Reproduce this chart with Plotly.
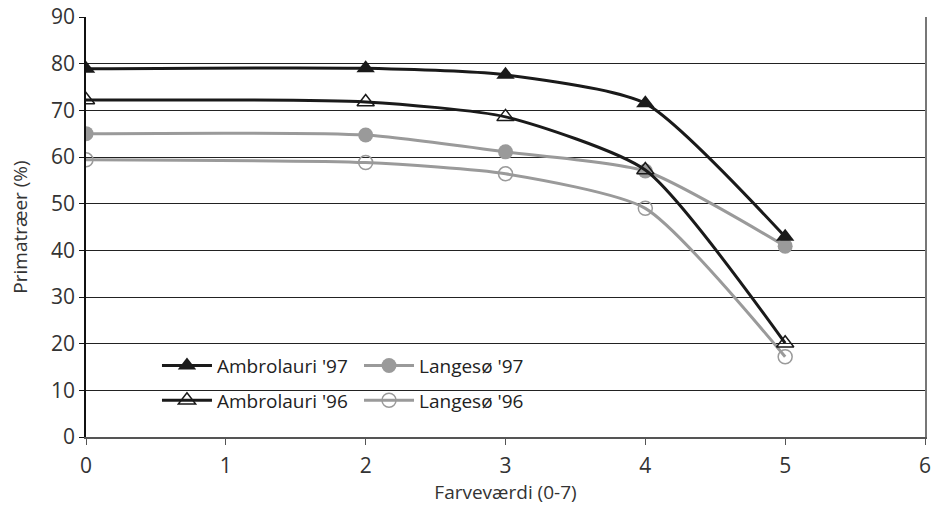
import plotly.graph_objects as go

x_vals = [0, 2, 3, 4, 5]
ambro_97 = [78.9, 79.0, 77.6, 71.5, 42.9]
ambro_96 = [72.2, 71.8, 68.6, 57.2, 20.1]
lange_97 = [65.0, 64.7, 61.1, 57.0, 40.9]
lange_96 = [59.4, 58.8, 56.4, 49.0, 17.2]

x_ticks = [0, 1, 2, 3, 4, 5, 6]
y_ticks = [0, 10, 20, 30, 40, 50, 60, 70, 80, 90]

BLACK = "#1a1a1a"
GRAY = "#9a9a9a"
FONT = "Open Sans"
SMOOTH = 0.6

fig = go.Figure()

fig.add_trace(go.Scatter(
    x=x_vals, y=lange_96, name="Langesø '96", mode="lines+markers",
    line=dict(color=GRAY, width=3, shape="spline", smoothing=SMOOTH),
    marker=dict(symbol="circle-open", size=14, color=GRAY, line=dict(width=1.5, color=GRAY)),
    legend="legend2", legendrank=2, legendgroup="l96"))
fig.add_trace(go.Scatter(
    x=x_vals, y=lange_97, name="Langesø '97", mode="lines+markers",
    line=dict(color=GRAY, width=3, shape="spline", smoothing=SMOOTH),
    marker=dict(symbol="circle", size=15, color=GRAY),
    legend="legend2", legendrank=1, legendgroup="l97"))
fig.add_trace(go.Scatter(
    x=x_vals, y=ambro_96, name="Ambrolauri '96", mode="lines+markers",
    line=dict(color=BLACK, width=3, shape="spline", smoothing=SMOOTH),
    marker=dict(symbol="triangle-up-open", size=15, color=BLACK, line=dict(width=1.5, color=BLACK)),
    legend="legend", legendrank=2, legendgroup="a96"))
fig.add_trace(go.Scatter(
    x=x_vals, y=ambro_97, name="Ambrolauri '97", mode="lines+markers",
    line=dict(color=BLACK, width=3, shape="spline", smoothing=SMOOTH),
    marker=dict(symbol="triangle-up", size=16, color=BLACK),
    legend="legend", legendrank=1, legendgroup="a97"))

legend_common = dict(
    bgcolor="rgba(255,255,255,0)", borderwidth=0, orientation="v",
    font=dict(family=FONT, size=19, color="#222"),
    xanchor="left", yanchor="top", tracegroupgap=7,
    traceorder="grouped", itemwidth=50,
)

fig.update_layout(
    width=941, height=509,
    margin=dict(l=86, r=16, t=17, b=72),
    paper_bgcolor="white", plot_bgcolor="white",
    font=dict(family=FONT, size=19, color="#333"),
    legend=dict(x=0.0846, y=0.215, **legend_common),
    legend2=dict(x=0.3254, y=0.215, **legend_common),
    xaxis=dict(
        range=[0, 6], tickvals=x_ticks, ticktext=[str(v) for v in x_ticks],
        showgrid=False, zeroline=False, automargin=False,
        showline=True, linecolor="#555", linewidth=2, mirror=False,
        ticks="outside", ticklen=6, tickcolor="#555", tickwidth=1,
        ticklabelstandoff=3,
        tickfont=dict(family=FONT, size=21, color="#333"),
        title=dict(text="Farveværdi (0-7)", font=dict(family=FONT, size=19, color="#333"), standoff=4),
    ),
    yaxis=dict(
        range=[0, 90], tickvals=y_ticks,
        showgrid=True, gridcolor="#222", gridwidth=1, zeroline=False, automargin=False,
        showline=True, linecolor="#111", linewidth=1.5, mirror=False,
        ticks="outside", ticklen=5, tickcolor="#111",
        tickfont=dict(family=FONT, size=21, color="#333"),
        title=dict(text="Primatræer (%)", font=dict(family=FONT, size=19, color="#333"), standoff=18),
    ),
    yaxis2=dict(overlaying="y", side="right", range=[0, 90], showgrid=False, automargin=False,
                showticklabels=False, showline=True, linecolor="#777", linewidth=1.5,
                zeroline=False, ticks=""),
    showlegend=True,
    shapes=[dict(type="rect", xref="paper", yref="paper", x0=0.0846, x1=0.566, y0=0.002, y1=0.219,
                 fillcolor="white", line=dict(width=0), layer="between")],
)

fig.add_trace(go.Scatter(x=[None], y=[None], yaxis="y2", showlegend=False, hoverinfo="skip"))

fig.write_html("out.html")
